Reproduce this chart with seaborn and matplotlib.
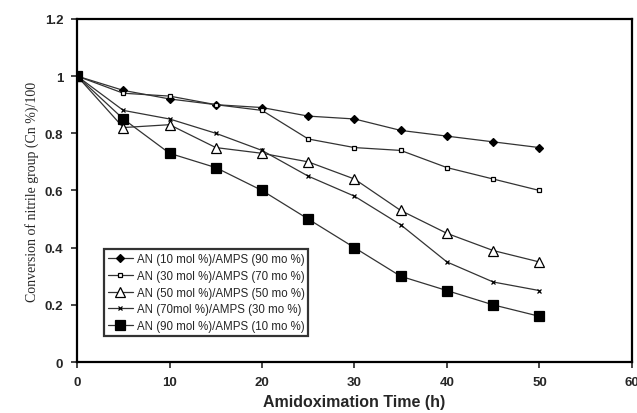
import numpy as np
import pandas as pd
import matplotlib
matplotlib.use("Agg")
import matplotlib.pyplot as plt
import seaborn as sns

# amidoximation time (h)
time_h = [0, 5, 10, 15, 20, 25, 30, 35, 40, 45, 50]

labels = [
    "AN (10 mol %)/AMPS (90 mo %)",
    "AN (30 mol %)/AMPS (70 mo %)",
    "AN (50 mol %)/AMPS (50 mo %)",
    "AN (70mol %)/AMPS (30 mo %)",
    "AN (90 mol %)/AMPS (10 mo %)",
]

an10 = [1.00, 0.95, 0.92, 0.90, 0.89, 0.86, 0.85, 0.81, 0.79, 0.77, 0.75]
an30 = [1.00, 0.94, 0.93, 0.90, 0.88, 0.78, 0.75, 0.74, 0.68, 0.64, 0.60]
an50 = [1.00, 0.82, 0.83, 0.75, 0.73, 0.70, 0.64, 0.53, 0.45, 0.39, 0.35]
an70 = [1.00, 0.88, 0.85, 0.80, 0.74, 0.65, 0.58, 0.48, 0.35, 0.28, 0.25]
an90 = [1.00, 0.85, 0.73, 0.68, 0.60, 0.50, 0.40, 0.30, 0.25, 0.20, 0.16]

series = [an10, an30, an50, an70, an90]

rows = []
for lab, vals in zip(labels, series):
    for t, v in zip(time_h, vals):
        rows.append({"time": t, "conv": v, "sample": lab})
df = pd.DataFrame(rows)

sns.set_style("white")
plt.rcParams["font.family"] = ["Liberation Sans", "DejaVu Sans"]

fig = plt.figure(figsize=(6.37, 4.14), dpi=100)
ax = fig.add_axes([0.121, 0.123, 0.871, 0.829])

# marker styles: (marker, size, facecolor)
styles = [
    ("D", 3.8, "black"),
    ("s", 3.5, "white"),
    ("^", 7, "white"),
    ("x", 3.5, "black"),
    ("s", 6.5, "black"),
]

for lab, (mk, ms, fc) in zip(labels, styles):
    sub = df[df["sample"] == lab]
    sns.lineplot(data=sub, x="time", y="conv", ax=ax, color="#333333",
                 lw=0.9, marker=mk, markersize=ms, markerfacecolor=fc,
                 markeredgecolor="black", markeredgewidth=0.9, label=lab)

ax.set_xlim(0, 60)
ax.set_ylim(0, 1.2)
ax.set_xticks([0, 10, 20, 30, 40, 50, 60])
ax.set_yticks([0, 0.2, 0.4, 0.6, 0.8, 1.0, 1.2])
ax.set_yticklabels(["0", "0.2", "0.4", "0.6", "0.8", "1", "1.2"])
for lbl in ax.get_xticklabels() + ax.get_yticklabels():
    lbl.set_fontweight("bold")
    lbl.set_fontsize(9.5)
ax.tick_params(axis="both", direction="out", length=4, width=1.2,
               bottom=True, left=True, pad=6)

for sp in ax.spines.values():
    sp.set_linewidth(1.6)
    sp.set_color("black")

ax.set_xlabel("Amidoximation Time (h)", fontsize=11.5, fontweight="bold")
ax.set_ylabel("Conversion of nitrile group (Cn %)/100", fontsize=10,
              family=["Liberation Serif", "DejaVu Serif"])

leg = ax.legend(loc="lower left", bbox_to_anchor=(0.048, 0.075),
                fontsize=8.3, frameon=True, fancybox=False,
                handlelength=2.2, borderpad=0.35, labelspacing=0.42,
                handletextpad=0.3, borderaxespad=0.0)
leg.get_frame().set_edgecolor("black")
leg.get_frame().set_linewidth(1.6)

fig.savefig("out.png", dpi=100)
